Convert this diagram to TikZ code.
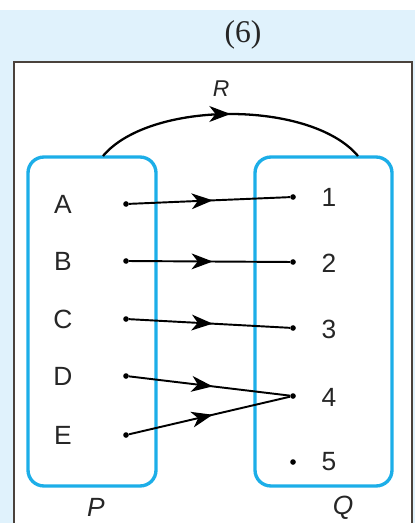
\documentclass[tikz,border=0pt]{standalone}
\usepackage{fontspec}
\setmainfont{Liberation Sans}
\newfontfamily\titlefont{Liberation Serif}
\usetikzlibrary{arrows.meta}
\usetikzlibrary{decorations.markings}
\definecolor{panelblue}{HTML}{E0F2FC}
\definecolor{setblue}{HTML}{1CAEE8}
\definecolor{framegray}{HTML}{4A423C}

\begin{document}
\begin{tikzpicture}[
x=0.02cm, y=-0.02cm,
setbox/.style={rectangle, draw=setblue, line width=1.9pt, rounded corners=9pt},
dot/.style={circle, fill=black, inner sep=0pt, minimum size=3.2pt},
elem/.style={font=\fontsize{15}{17}\selectfont, text=black!85},
setname/.style={font=\fontsize{15}{17}\selectfont\itshape, text=black!85},
mapto/.style={line width=1.1pt, postaction={decorate}, decoration={markings,
  mark=at position #1 with {\arrow{Stealth[length=12pt, width=9pt, inset=3.5pt]}}}},
mapto/.default=0.52
]
\useasboundingbox (0,0) rectangle (415,523);
\fill[panelblue] (0,10) rectangle (415,523);
\fill[white] (14,62) rectangle (412,523);
\draw[framegray, line width=1.1pt] (14,523) -- (14,62) -- (412,62) -- (412,523);

\node[font=\titlefont\fontsize{18}{20}\selectfont, text=black!85] (title) at (243,35) {(6)};

% the two sets
\node[setbox, minimum width=2.56cm, minimum height=6.58cm] (setP) at (92,321.5) {};
\node[setbox, minimum width=2.74cm, minimum height=6.58cm] (setQ) at (323.5,321.5) {};
\node[setname] (nameP) at (96,507) {P};
\node[setname] (nameQ) at (343,508) {Q};

% elements of P
\node[elem] (lA) at (63,204) {A};
\node[elem] (lB) at (63,261) {B};
\node[elem] (lC) at (63,319) {C};
\node[elem] (lD) at (63,376) {D};
\node[elem] (lE) at (63,435) {E};
\node[dot] (dA) at (126,204) {};
\node[dot] (dB) at (126,261) {};
\node[dot] (dC) at (126,319) {};
\node[dot] (dD) at (126,376) {};
\node[dot] (dE) at (126,435) {};

% elements of Q
\node[elem] (l1) at (329,197) {1};
\node[elem] (l2) at (329,263) {2};
\node[elem] (l3) at (329,329) {3};
\node[elem] (l4) at (329,397) {4};
\node[elem] (l5) at (329,462) {5};
\node[dot] (d1) at (293,197) {};
\node[dot] (d2) at (293,262) {};
\node[dot] (d3) at (293,328) {};
\node[dot] (d4) at (293,396) {};
\node[dot] (d5) at (293,462) {};

% relation R
\coordinate (arcL) at (103,156);
\coordinate (arcR) at (358,156);
\draw[mapto=0.5, line width=1.3pt] (arcL) .. controls (150,100) and (311,100) .. (arcR);
\node[setname, font=\fontsize{13}{15}\selectfont\itshape] (nameR) at (221,89) {R};

\draw[mapto] (dA)--(d1);
\draw[mapto] (dB)--(d2);
\draw[mapto] (dC)--(d3);
\draw[mapto] (dD)--(d4);
\draw[mapto] (dE)--(d4);
\end{tikzpicture}
\end{document}
